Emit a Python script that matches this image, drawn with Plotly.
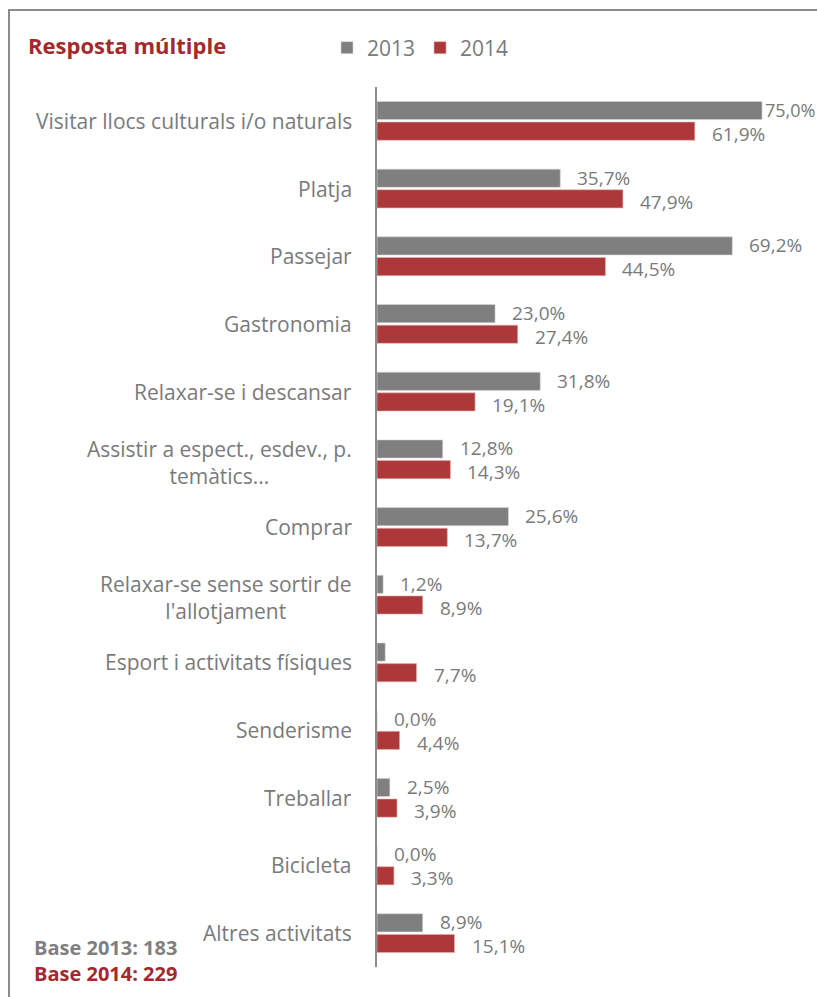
import plotly.graph_objects as go

categories = [
    "Visitar llocs culturals i/o naturals",
    "Platja",
    "Passejar",
    "Gastronomia",
    "Relaxar-se i descansar",
    "Assistir a espect., esdev., p.<br>temàtics...",
    "Comprar",
    "Relaxar-se sense sortir de<br>l'allotjament",
    "Esport i activitats físiques",
    "Senderisme",
    "Treballar",
    "Bicicleta",
    "Altres activitats",
]
values_2013 = [75.0, 35.7, 69.2, 23.0, 31.8, 12.8, 25.6, 1.2, 1.6, 0.0, 2.5, 0.0, 8.9]
labels_2013 = ["75,0%", "35,7%", "69,2%", "23,0%", "31,8%", "12,8%", "25,6%", "1,2%", "", "0,0%", "2,5%", "0,0%", "8,9%"]
values_2014 = [61.9, 47.9, 44.5, 27.4, 19.1, 14.3, 13.7, 8.9, 7.7, 4.4, 3.9, 3.3, 15.1]
labels_2014 = ["61,9%", "47,9%", "44,5%", "27,4%", "19,1%", "14,3%", "13,7%", "8,9%", "7,7%", "4,4%", "3,9%", "3,3%", "15,1%"]

GREY = "#7f7f7f"
RED = "#ad383a"
TITLE_RED = "#a3292d"
TEXT = "#7a7a7a"
FONT = "Open Sans"

W, H = 817, 997
ML, MR, MT, MB = 377, 0, 87, 30
X_MAX = 85.7
plot_w = W - ML - MR
plot_h = H - MT - MB
ppu = plot_w / X_MAX

fig = go.Figure()
fig.add_trace(go.Bar(
    y=categories, x=values_2013, name="2013", orientation="h",
    marker=dict(color=GREY, line=dict(color="#d9d9d9", width=0.6)),
))
fig.add_trace(go.Bar(
    y=categories, x=values_2014, name="2014", orientation="h",
    marker=dict(color=RED, line=dict(color="#e6b0b0", width=0.6)),
))

annotations = []
# Value labels next to each bar (2013 above, 2014 below within a group);
# a label that would run past the right edge is pulled in towards its bar.
label_w = 52
for vals, labs, off in ((values_2013, labels_2013, -11), (values_2014, labels_2014, 13)):
    for cat, v, lab in zip(categories, vals, labs):
        if not lab:
            continue
        shift = 15
        if v * ppu + shift + label_w > plot_w - 2:
            shift = max(0, plot_w - 2 - label_w - v * ppu)
        annotations.append(dict(
            x=v, y=cat, xref="x", yref="y", text=lab, showarrow=False,
            xanchor="left", yanchor="middle", xshift=shift, yshift=-off,
            font=dict(family=FONT, size=19 if shift > 2 else 18, color=TEXT),
        ))

# Category labels, multi-line entries centred on each other
for cat in categories:
    annotations.append(dict(
        x=0, y=cat, xref="x", yref="y", text=cat, showarrow=False,
        xanchor="right", yanchor="middle", align="center", xshift=-23,
        yshift=-3 if "<br>" in cat else 0,
        font=dict(family=FONT, size=21, color=TEXT),
    ))

def px_to_paper_x(px):
    return (px - ML) / plot_w

def px_to_paper_y(py):
    return (H - MB - py) / plot_h

annotations += [
    dict(x=px_to_paper_x(26), y=px_to_paper_y(45), xref="paper", yref="paper",
         text="<b>Resposta múltiple</b>", showarrow=False, xanchor="left", yanchor="middle",
         font=dict(family=FONT, size=22, color=TITLE_RED)),
    dict(x=px_to_paper_x(32), y=px_to_paper_y(947), xref="paper", yref="paper",
         text="<b>Base 2013: 183</b>", showarrow=False, xanchor="left", yanchor="middle",
         font=dict(family=FONT, size=20, color=GREY)),
    dict(x=px_to_paper_x(32), y=px_to_paper_y(973), xref="paper", yref="paper",
         text="<b>Base 2014: 229</b>", showarrow=False, xanchor="left", yanchor="middle",
         font=dict(family=FONT, size=20, color=TITLE_RED)),
]

shapes = [
    dict(type="rect", xref="paper", yref="paper",
         x0=px_to_paper_x(9), x1=px_to_paper_x(830),
         y0=px_to_paper_y(1010), y1=px_to_paper_y(10),
         line=dict(color="#8c8c8c", width=2), fillcolor="rgba(0,0,0,0)", layer="below"),
]

fig.update_layout(
    width=W, height=H,
    margin=dict(l=ML, r=MR, t=MT, b=MB, pad=0),
    paper_bgcolor="white", plot_bgcolor="white",
    barmode="group", bargap=0.39, bargroupgap=0.12,
    showlegend=True,
    legend=dict(
        orientation="h", x=px_to_paper_x(327), y=px_to_paper_y(48),
        xanchor="left", yanchor="middle",
        font=dict(family=FONT, size=21, color=TEXT),
        itemwidth=30, tracegroupgap=0, bgcolor="rgba(0,0,0,0)",
    ),
    xaxis=dict(range=[0, X_MAX], showgrid=False, zeroline=False,
               showticklabels=False, showline=False, fixedrange=True),
    yaxis=dict(autorange="reversed", showgrid=False, zeroline=False,
               showticklabels=False, showline=True, linecolor="#8c8c8c", linewidth=1.5,
               ticks="", fixedrange=True),
    annotations=annotations,
    shapes=shapes,
    font=dict(family=FONT, color=TEXT),
)

fig.write_html("out.html")
